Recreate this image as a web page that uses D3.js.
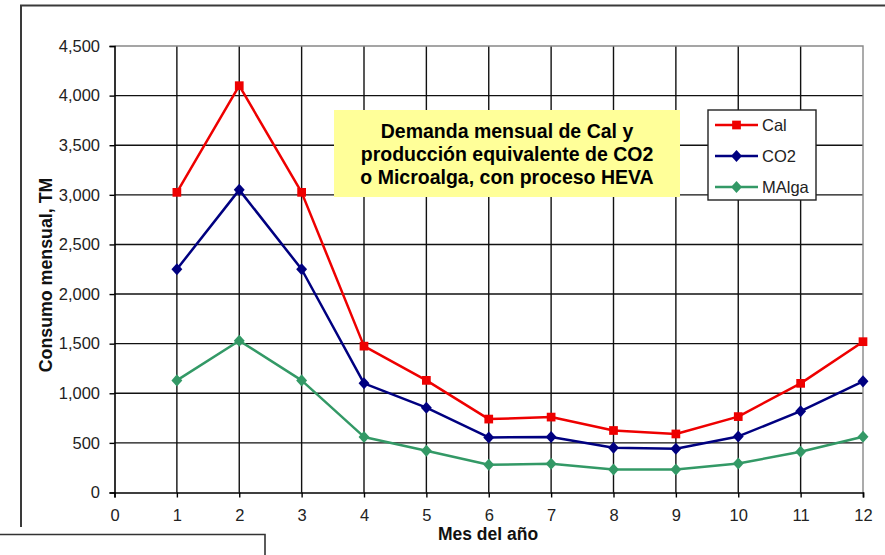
<!DOCTYPE html>
<html>
<head>
<meta charset="utf-8">
<script src="https://cdn.jsdelivr.net/npm/d3@7"></script>
<style>
  html, body { margin: 0; padding: 0; background: #fff; }
  svg { display: block; font-family: Arial, "Liberation Sans", sans-serif; }
</style>
</head>
<body>
<svg id="chart" width="885" height="555"></svg>
<script>
// Monthly figures (TM)
const months = [1, 2, 3, 4, 5, 6, 7, 8, 9, 10, 11, 12];
const calValues   = [3025, 4100, 3025, 1475, 1130, 740, 760, 625, 590, 765, 1100, 1520];
const co2Values   = [2250, 3050, 2250, 1100, 855, 555, 560, 452, 440, 565, 820, 1120];
const malgaValues = [1130, 1530, 1130, 560, 420, 280, 290, 232, 232, 292, 410, 562];
const seriesNames = ["Cal", "CO2", "MAlga"];
const xTicks = [0, 1, 2, 3, 4, 5, 6, 7, 8, 9, 10, 11, 12];
const yTicks = [0, 500, 1000, 1500, 2000, 2500, 3000, 3500, 4000, 4500];
const titleLines = ["Demanda mensual de Cal y", "producción equivalente de CO2", "o Microalga, con proceso HEVA"];

const svg = d3.select("#chart");

const plot = { left: 114.5, right: 863, top: 46, bottom: 492.5 };
const x = d3.scaleLinear().domain([0, 12]).range([plot.left, plot.right]);
const y = d3.scaleLinear().domain([0, 4500]).range([plot.bottom, plot.top]);

// Outer chart frame (left and top edges visible)
svg.append("path")
  .attr("d", "M21,527 L21,5.5 L885,5.5")
  .attr("fill", "none").attr("stroke", "#3a3a3a").attr("stroke-width", 2);

// Box partially visible at the lower left
svg.append("path")
  .attr("d", "M0,534.5 L265,534.5 L265,555")
  .attr("fill", "none").attr("stroke", "#333").attr("stroke-width", 1.6);

// Gridlines
const grid = svg.append("g");
grid.selectAll("line.h").data(yTicks.filter(d => d > 0 && d < 4500)).join("line")
  .attr("x1", plot.left).attr("x2", plot.right)
  .attr("y1", d => y(d)).attr("y2", d => y(d))
  .attr("stroke", "#111").attr("stroke-width", 1.4);
grid.selectAll("line.v").data(xTicks.filter(d => d > 0 && d < 12)).join("line")
  .attr("y1", plot.top).attr("y2", plot.bottom)
  .attr("x1", d => x(d)).attr("x2", d => x(d))
  .attr("stroke", "#111").attr("stroke-width", 1.4);
// Plot area edges (top, right) in grey
svg.append("path")
  .attr("d", `M${plot.left},${plot.top} L${plot.right},${plot.top} L${plot.right},${plot.bottom}`)
  .attr("fill", "none").attr("stroke", "#888").attr("stroke-width", 1.4);

// Axes
const yAxis = svg.append("g")
  .attr("transform", `translate(${plot.left},0)`)
  .call(d3.axisLeft(y).tickValues(yTicks).tickSize(5).tickPadding(9.5)
    .tickFormat(d3.format(",")));
const xAxis = svg.append("g")
  .attr("transform", `translate(0,${plot.bottom})`)
  .call(d3.axisBottom(x).tickValues(xTicks).tickSize(5).tickPadding(12)
    .tickFormat(d3.format("d")));
[yAxis, xAxis].forEach(g => {
  g.attr("font-size", null).attr("font-family", null);
  g.select(".domain").attr("stroke", "#000").attr("stroke-width", 1.6);
  g.selectAll(".tick line").attr("stroke", "#000").attr("stroke-width", 1.4);
  g.selectAll(".tick text").attr("fill", "#222")
    .style("font-size", "16.5px")
    .style("font-family", "Arial, 'Liberation Sans', sans-serif");
});

// Axis titles
svg.append("text")
  .attr("transform", "translate(51.5,275) rotate(-90)")
  .attr("text-anchor", "middle")
  .attr("font-weight", "bold").style("font-size", "17.8px").attr("fill", "#111")
  .text("Consumo mensual, TM");
svg.append("text")
  .attr("x", 488).attr("y", 540)
  .attr("text-anchor", "middle")
  .attr("font-weight", "bold").style("font-size", "17.5px").attr("fill", "#111")
  .text("Mes del año");

// Series
const series = [
  { name: seriesNames[0], values: calValues,   color: "#ee0000", marker: "square" },
  { name: seriesNames[1], values: co2Values,   color: "#000080", marker: "diamond" },
  { name: seriesNames[2], values: malgaValues, color: "#339966", marker: "diamond" }
];

const line = d3.line().x((d, i) => x(months[i])).y(d => y(d));
const squareSym = d3.symbol().type(d3.symbolSquare).size(76);
const diamondSym = d3.symbol().type(d3.symbolDiamond2).size(76);

function drawMarker(sel, s) {
  if (s.marker === "square") {
    sel.append("path").attr("d", squareSym()).attr("fill", s.color);
  } else {
    sel.append("path").attr("d", diamondSym()).attr("fill", s.color)
      .attr("transform", "scale(1,1.1)");
  }
}

// Draw lower series first so red sits on top
series.slice().reverse().forEach(s => {
  const g = svg.append("g");
  g.append("path").datum(s.values)
    .attr("d", line).attr("fill", "none")
    .attr("stroke", s.color).attr("stroke-width", 2.5).attr("stroke-linejoin", "round");
  g.selectAll("g.pt").data(s.values).join("g")
    .attr("transform", (d, i) => `translate(${x(months[i])},${y(d)})`)
    .each(function () { drawMarker(d3.select(this), s); });
});

// Title box
const tb = { x: 334, y: 110, w: 346, h: 87 };
svg.append("rect").attr("x", tb.x).attr("y", tb.y).attr("width", tb.w).attr("height", tb.h)
  .attr("fill", "#ffff99");
svg.append("g").selectAll("text").data(titleLines).join("text")
  .attr("x", tb.x + tb.w / 2)
  .attr("y", (d, i) => 138 + i * 23)
  .attr("text-anchor", "middle")
  .attr("font-weight", "bold").style("font-size", "19.5px").attr("fill", "#000")
  .text(d => d);

// Legend
const lg = svg.append("g");
lg.append("rect").attr("x", 708).attr("y", 110).attr("width", 108).attr("height", 90)
  .attr("fill", "#fff").attr("stroke", "#222").attr("stroke-width", 1.4);
series.forEach((s, i) => {
  const ly = 125 + i * 31;
  const item = lg.append("g");
  item.append("line").attr("x1", 715).attr("x2", 758).attr("y1", ly).attr("y2", ly)
    .attr("stroke", s.color).attr("stroke-width", 2.5);
  const m = item.append("g").attr("transform", `translate(736.5,${ly})`);
  drawMarker(m, s);
  item.append("text").attr("x", 762).attr("y", ly + 6)
    .style("font-size", "16.5px").attr("fill", "#222").text(s.name);
});
</script>
</body>
</html>
